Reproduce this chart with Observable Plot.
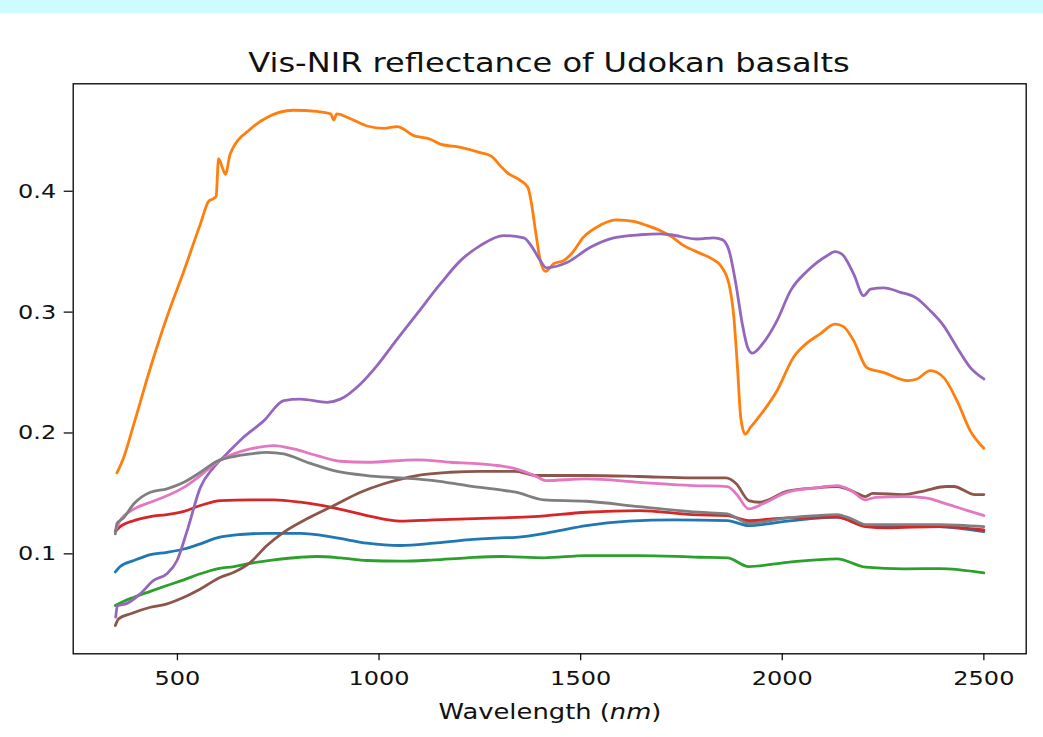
<!DOCTYPE html>
<html>
<head>
<meta charset="utf-8">
<script src="https://cdn.jsdelivr.net/npm/d3@7"></script>
<script src="https://cdn.jsdelivr.net/npm/@observablehq/plot@0.6"></script>
<style>
  body { margin: 0; background: #fff; font-family: "DejaVu Sans", sans-serif; }
  #wrap { position: relative; width: 1043px; height: 737px; overflow: hidden; background: #fff; }
  #band { position: absolute; left: 0; top: 0; width: 1043px; height: 13px; background: #ccfcfd; }
  #title { position: absolute; left: 49px; width: 1000px; top: 48px; height: 30px; line-height: 30px;
           text-align: center; font-size: 26.5px; color: #111; transform: scaleX(1.21); transform-origin: 50% 50%; white-space: nowrap; }
  #xlabel { position: absolute; left: 50px; width: 1000px; top: 700px; height: 24px; line-height: 24px;
            text-align: center; font-size: 21.5px; color: #111; transform: scaleX(1.2); transform-origin: 50% 50%; white-space: nowrap; }
  #chart { position: absolute; left: 0; top: 73px; }
</style>
</head>
<body>
<div id="wrap">
  <div id="band"></div>
  <div id="title">Vis-NIR reflectance of Udokan basalts</div>
  <div id="chart"></div>
  <div id="xlabel">Wavelength (<i>nm</i>)</div>
</div>
<script>
// Series names (no legend in the original) and tab10 colours
const seriesNames = ["Sample 1","Sample 2","Sample 3","Sample 4","Sample 5","Sample 6","Sample 7","Sample 8"];
const seriesColors = ["#1f77b4","#ff7f0e","#2ca02c","#d62728","#9467bd","#8c564b","#e377c2","#7f7f7f"];
const xTicks = [500, 1000, 1500, 2000, 2500];
const yTicks = [0.1, 0.2, 0.3, 0.4];

// [wavelength nm, reflectance]
const s1Blue = [[346,0.085],[358,0.0895],[392,0.0945],[433,0.0994],[474,0.1013],[516,0.104],[557,0.1083],[598,0.1132],[656,0.116],[722,0.117],[805,0.117],[888,0.1137],[970,0.1088],[1053,0.1069],[1136,0.1088],[1218,0.1116],[1301,0.1132],[1339,0.1137],[1427,0.1179],[1514,0.1234],[1619,0.127],[1733,0.1281],[1864,0.1275],[1917,0.1234],[2013,0.127],[2136,0.1303],[2206,0.1234],[2390,0.1225],[2500,0.1184]];
const s2Orange = [[350,0.167],[367,0.180],[392,0.2075],[433,0.254],[474,0.296],[516,0.334],[557,0.373],[578,0.392],[590,0.394],[596,0.396],[602,0.427],[612,0.419],[619,0.414],[631,0.431],[681,0.4515],[722,0.461],[788,0.467],[846,0.466],[880,0.464],[888,0.459],[895,0.464],[929,0.460],[970,0.454],[1012,0.452],[1045,0.4535],[1086,0.446],[1127,0.443],[1152,0.439],[1202,0.4363],[1251,0.432],[1280,0.4286],[1301,0.421],[1317,0.4156],[1351,0.4088],[1369,0.4033],[1377,0.392],[1388,0.3674],[1400,0.3426],[1413,0.3337],[1433,0.340],[1458,0.3426],[1479,0.349],[1507,0.362],[1549,0.372],[1590,0.3763],[1631,0.375],[1665,0.3716],[1698,0.3674],[1723,0.363],[1756,0.355],[1797,0.3486],[1826,0.344],[1847,0.3385],[1868,0.323],[1880,0.2957],[1889,0.254],[1897,0.213],[1908,0.199],[1922,0.205],[1954,0.2185],[1987,0.235],[2028,0.2626],[2053,0.272],[2094,0.282],[2131,0.290],[2152,0.288],[2177,0.2764],[2210,0.254],[2252,0.250],[2310,0.2433],[2334,0.2447],[2367,0.2516],[2400,0.246],[2433,0.227],[2466,0.202],[2500,0.1873]];
const s3Green = [[346,0.0572],[367,0.0608],[392,0.0641],[433,0.069],[474,0.0738],[516,0.0785],[557,0.0835],[598,0.0876],[640,0.0895],[681,0.0922],[739,0.095],[805,0.0972],[846,0.0978],[904,0.0967],[970,0.0945],[1053,0.0939],[1136,0.095],[1218,0.0967],[1301,0.0978],[1409,0.0967],[1514,0.0986],[1645,0.0986],[1794,0.0972],[1864,0.0967],[1917,0.0895],[2013,0.093],[2136,0.0959],[2206,0.089],[2302,0.0876],[2390,0.0878],[2500,0.0843]];
const s4Red = [[346,0.1185],[358,0.1225],[392,0.1275],[433,0.1308],[474,0.1325],[516,0.1352],[557,0.140],[607,0.1441],[681,0.1447],[739,0.1447],[805,0.1427],[888,0.138],[970,0.1317],[1053,0.127],[1136,0.1281],[1218,0.129],[1301,0.1298],[1383,0.1308],[1514,0.1344],[1645,0.1358],[1777,0.1325],[1864,0.1317],[1917,0.1275],[2013,0.1298],[2136,0.1303],[2206,0.1226],[2259,0.1215],[2390,0.1226],[2500,0.1198]];
const s5Purple = [[347,0.0476],[351,0.057],[375,0.059],[408,0.067],[441,0.078],[474,0.0835],[499,0.0945],[524,0.119],[557,0.155],[590,0.1716],[623,0.183],[664,0.1965],[714,0.210],[764,0.2268],[805,0.228],[871,0.2254],[904,0.228],[954,0.2406],[995,0.2557],[1036,0.2737],[1094,0.2985],[1152,0.3233],[1202,0.3426],[1251,0.355],[1309,0.3633],[1359,0.3614],[1380,0.3536],[1400,0.3426],[1415,0.3366],[1466,0.341],[1524,0.3536],[1582,0.3614],[1648,0.364],[1698,0.3647],[1723,0.364],[1789,0.3605],[1830,0.3614],[1851,0.360],[1868,0.351],[1885,0.3233],[1901,0.290],[1914,0.271],[1926,0.266],[1954,0.275],[1987,0.293],[2021,0.318],[2062,0.334],[2111,0.3467],[2131,0.350],[2148,0.348],[2177,0.3316],[2202,0.3136],[2219,0.319],[2252,0.320],[2293,0.3164],[2331,0.312],[2367,0.3012],[2400,0.2888],[2433,0.271],[2466,0.2543],[2500,0.2447]];
const s6Brown = [[346,0.0407],[354,0.0462],[384,0.0504],[433,0.0558],[474,0.0586],[516,0.0641],[557,0.071],[607,0.0807],[640,0.0848],[681,0.093],[722,0.1069],[764,0.118],[821,0.129],[888,0.14],[954,0.151],[1012,0.158],[1094,0.1648],[1177,0.1675],[1251,0.1683],[1338,0.1683],[1391,0.1648],[1514,0.1648],[1645,0.164],[1777,0.1628],[1860,0.1628],[1886,0.158],[1917,0.1441],[1943,0.1427],[2013,0.1518],[2084,0.1546],[2136,0.1557],[2180,0.151],[2206,0.1474],[2224,0.150],[2302,0.149],[2355,0.1524],[2407,0.1557],[2425,0.1557],[2478,0.149],[2500,0.149]];
const s7Pink = [[346,0.119],[358,0.1276],[392,0.137],[433,0.1427],[474,0.148],[516,0.155],[557,0.1648],[598,0.1758],[640,0.1827],[681,0.1868],[739,0.1896],[788,0.1868],[846,0.1813],[904,0.1766],[970,0.1758],[1094,0.1778],[1177,0.1758],[1251,0.1744],[1339,0.1703],[1391,0.1639],[1413,0.1606],[1514,0.162],[1645,0.1592],[1777,0.1565],[1864,0.1557],[1886,0.1496],[1917,0.1372],[1952,0.1414],[2013,0.151],[2084,0.1546],[2136,0.1565],[2171,0.1524],[2206,0.1447],[2232,0.1468],[2302,0.1474],[2355,0.1463],[2407,0.1414],[2460,0.1358],[2500,0.1317]];
const s8Gray = [[346,0.1165],[350,0.125],[367,0.130],[392,0.1414],[433,0.151],[474,0.1538],[516,0.1592],[557,0.1675],[598,0.1766],[640,0.1805],[681,0.1827],[722,0.184],[764,0.1827],[821,0.1758],[888,0.1689],[970,0.1648],[1053,0.1629],[1136,0.1606],[1218,0.1565],[1301,0.1529],[1339,0.151],[1409,0.1447],[1514,0.1435],[1645,0.1391],[1794,0.1344],[1864,0.1331],[1890,0.129],[1917,0.1253],[2013,0.1298],[2084,0.1317],[2136,0.1325],[2171,0.129],[2206,0.1242],[2302,0.1242],[2390,0.1242],[2500,0.1225]];

const allSeries = [s1Blue, s2Orange, s3Green, s4Red, s5Purple, s6Brown, s7Pink, s8Gray];
const rows = allSeries.flatMap((arr, i) => arr.map(([w, r]) => ({series: seriesNames[i], w, r})));

const chart = Plot.plot({
  width: 1043,
  height: 664,
  marginTop: 10.3,
  marginBottom: 83.7,
  marginLeft: 72.7,
  marginRight: 17.3,
  style: {fontFamily: "DejaVu Sans, sans-serif", fontSize: "20px", color: "#111", background: "transparent"},
  x: {domain: [241.5, 2605], ticks: xTicks, tickFormat: d3.format("d"), tickSize: 7, tickPadding: 10, label: null},
  y: {domain: [0.0173, 0.4889], ticks: yTicks, tickFormat: d3.format(".1f"), tickSize: 9, tickPadding: 8, label: null},
  color: {domain: seriesNames, range: seriesColors},
  marks: [
    Plot.line(rows, {x: "w", y: "r", z: "series", stroke: "series", strokeWidth: 2.8, curve: "monotone-x"}),
    Plot.frame({stroke: "#000", strokeWidth: 1.3})
  ]
});
document.getElementById("chart").appendChild(chart);

// Matplotlib source is horizontally stretched ~1.2x: widen the tick labels to match
chart.querySelectorAll("g[aria-label$='tick label'] text").forEach(t => {
  const L = t.getComputedTextLength();
  t.setAttribute("textLength", (L * 1.2).toFixed(2));
  t.setAttribute("lengthAdjust", "spacingAndGlyphs");
});
chart.querySelectorAll("g[aria-label$='tick'] path, g[aria-label$='tick'] line").forEach(p => p.setAttribute("stroke-width", "1.3"));
</script>
</body>
</html>
